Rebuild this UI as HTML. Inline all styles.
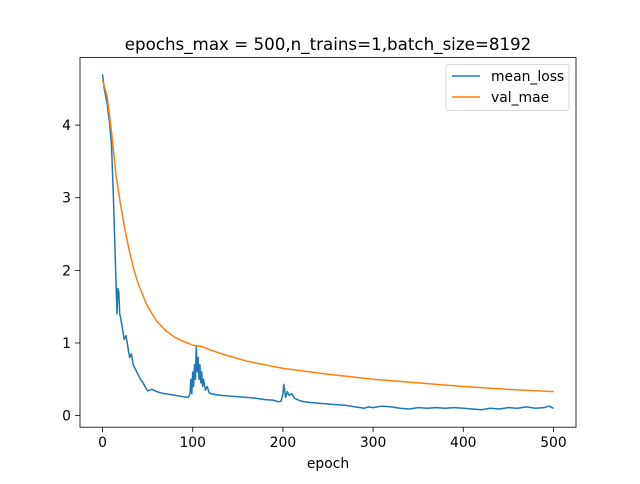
<!DOCTYPE html>
<html><head><meta charset="utf-8"><style>
body{margin:0;background:#fff;font-family:"DejaVu Sans","Liberation Sans",sans-serif}
svg text{font-family:"DejaVu Sans","Liberation Sans",sans-serif}
</style></head><body>
<svg id="chart" width="640" height="480" xmlns="http://www.w3.org/2000/svg">
<rect width="640" height="480" fill="#fff"/>
<g id="plot"></g>
</svg>
<script>
const lossEpochs=[0,2,5,8,10,12,14,16,17,18,19,20,22,24,26,28,30,32,34,36,38,40,42,45,48,50,52,55,60,65,70,75,80,85,90,95,97,98,99,100,101,102,103,104,105,106,107,108,109,110,111,112,114,116,118,120,125,130,140,150,160,170,180,190,195,198,200,201,202,203,205,207,210,213,216,220,230,240,250,260,270,280,290,295,300,310,320,330,340,350,360,370,380,390,400,410,420,430,440,450,460,470,480,490,495,500];
const lossValues=[4.7,4.5,4.3,4.0,3.7,3.0,2.2,1.4,1.75,1.7,1.4,1.35,1.2,1.05,1.1,0.95,0.8,0.85,0.7,0.65,0.6,0.55,0.5,0.45,0.38,0.34,0.35,0.36,0.33,0.31,0.3,0.29,0.28,0.27,0.26,0.25,0.3,0.5,0.3,0.6,0.4,0.7,0.5,0.95,0.6,0.8,0.5,0.7,0.45,0.6,0.4,0.5,0.35,0.4,0.32,0.3,0.29,0.28,0.27,0.26,0.25,0.24,0.22,0.21,0.19,0.2,0.3,0.43,0.35,0.25,0.33,0.28,0.3,0.24,0.22,0.2,0.18,0.17,0.16,0.15,0.14,0.12,0.1,0.12,0.11,0.13,0.12,0.1,0.09,0.11,0.1,0.11,0.1,0.11,0.1,0.09,0.08,0.1,0.09,0.11,0.1,0.12,0.1,0.11,0.13,0.1];
const valEpochs=[0,5,10,15,20,25,30,35,40,50,60,70,80,90,100,110,120,140,160,180,200,250,300,350,400,450,500];
const valValues=[4.62,4.4,3.9,3.3,2.9,2.55,2.25,2.0,1.8,1.5,1.3,1.17,1.08,1.02,0.97,0.95,0.9,0.82,0.75,0.7,0.65,0.57,0.5,0.45,0.4,0.36,0.33];
const xTicks=[0,100,200,300,400,500];
const yTicks=[0,1,2,3,4];
const L=80,R=576,T=57.6,B=427.2,x0=-25,x1=525,y0=-0.16,y1=4.93;
const X=v=>L+(v-x0)/(x1-x0)*(R-L), Y=v=>B-(v-y0)/(y1-y0)*(B-T);
const g=document.getElementById('plot'),NS='http://www.w3.org/2000/svg';
function mk(t,a,p){const e=document.createElementNS(NS,t);for(const k in a)e.setAttribute(k,a[k]);(p||g).appendChild(e);return e;}
function line(xs,ys,c,name){const d=xs.map((x,i)=>(i?'L':'M')+X(x).toFixed(1)+','+Y(ys[i]).toFixed(1)).join('');const p=mk('path',{d:d,fill:'none',stroke:c,'stroke-width':1.5,'stroke-linejoin':'round'});

}
line(lossEpochs,lossValues,'#1f77b4','mean-loss-line');
line(valEpochs,valValues,'#ff7f0e','val-mae-line');
const fr=mk('rect',{x:L,y:T,width:R-L,height:B-T,fill:'none',stroke:'#000','stroke-width':0.8});


xTicks.forEach(v=>{mk('line',{x1:X(v),x2:X(v),y1:B,y2:B+4.9,stroke:'#000','stroke-width':0.8});const t=mk('text',{x:X(v),y:B+20,'text-anchor':'middle','font-size':13.9});t.textContent=v;

});
yTicks.forEach(v=>{mk('line',{x1:L-4.9,x2:L,y1:Y(v),y2:Y(v),stroke:'#000','stroke-width':0.8});const t=mk('text',{x:L-9,y:Y(v)+5,'text-anchor':'end','font-size':13.9});t.textContent=v;

});
const ti=mk('text',{x:328,y:50,'text-anchor':'middle','font-size':16.7});ti.textContent='epochs_max = 500,n_trains=1,batch_size=8192';


const xl=mk('text',{x:328,y:468,'text-anchor':'middle','font-size':13.9});xl.textContent='epoch';


const lg=mk('g',{});


mk('rect',{x:446,y:64.5,width:123,height:46,rx:2,fill:'#fff',stroke:'#ccc','stroke-width':0.8},lg);
[['mean_loss','#1f77b4',76],['val_mae','#ff7f0e',97]].forEach(([n,c,y])=>{mk('line',{x1:452,x2:480,y1:y,y2:y,stroke:c,'stroke-width':1.5},lg);const t=mk('text',{x:491,y:y+5,'font-size':13.9},lg);t.textContent=n;

});
</script>
</body></html>
